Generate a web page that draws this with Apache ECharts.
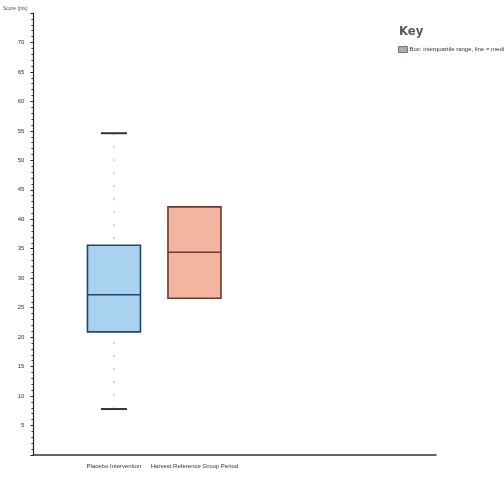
<!DOCTYPE html>
<html>
<head>
<meta charset="utf-8">
<script src="https://cdn.jsdelivr.net/npm/echarts@6/dist/echarts.min.js"></script>
<style>
  html, body { margin: 0; padding: 0; background: #fff; }
  #chart { width: 504px; height: 477px; }
</style>
</head>
<body>
<div id="chart"></div>
<script>
// Groups along the x axis (blank slots keep the spacing of the original layout)
const categories = ['', 'Placebo Intervention', 'Harvest Reference Group Period', '', '', ''];

// Box statistics per group: [lower quartile, median, upper quartile]
const placeboBox = [20.9, 27.2, 35.6];
const referenceBox = [26.6, 34.4, 42.1];

// Whisker ends per group: [minimum, maximum] (null = no whisker drawn)
const placeboWhisker = [7.8, 54.6];
const referenceWhisker = null;

// Y axis range and step
const yMin = 0, yMax = 75, yStep = 5;

const boxColors = [
  { fill: '#a9d2f0', border: '#23446e' },
  { fill: '#f5b4a0', border: '#6b3b32' }
];

function boxItem(stats, c) {
  // boxplot wants [min, Q1, median, Q3, max]; whiskers are drawn separately
  return {
    value: [stats[0], stats[0], stats[1], stats[2], stats[2]],
    itemStyle: { color: c.fill, borderColor: c.border, borderWidth: 1.6 }
  };
}

const boxData = [
  '-',
  boxItem(placeboBox, boxColors[0]),
  boxItem(referenceBox, boxColors[1]),
  '-', '-', '-'
];

const whiskerData = [];
[[1, placeboWhisker, placeboBox], [2, referenceWhisker, referenceBox]].forEach(([i, w, b]) => {
  if (w) whiskerData.push([i, w[0], b[0], b[2], w[1]]);
});

const chart = echarts.init(document.getElementById('chart'), null, { renderer: 'canvas' });

chart.setOption({
  backgroundColor: '#ffffff',
  animation: false,
  title: {
    text: 'Key',
    left: 394, top: 20,
    textStyle: { fontFamily: 'Liberation Sans Narrow, DejaVu Sans Condensed, sans-serif', fontSize: 13, fontWeight: 'bold', color: '#5a5a5a' }
  },
  legend: {
    left: 393, top: 41,
    itemWidth: 9, itemHeight: 6, itemGap: 4,
    icon: 'rect',
    data: [{ name: 'Box: interquartile range, line = median', itemStyle: { color: '#a7aeb6', borderColor: '#777', borderWidth: 1 } }],
    textStyle: { fontSize: 6, color: '#333', padding: [0, 0, 0, -3] }
  },
  grid: { left: 30, right: 68, top: 13, bottom: 22 },
  xAxis: {
    type: 'category',
    data: categories,
    boundaryGap: false,
    axisLine: { lineStyle: { color: '#333', width: 1.5 } },
    axisTick: { show: false },
    axisLabel: { fontSize: 6, color: '#333', interval: 0, margin: 8 },
    splitLine: { show: false }
  },
  yAxis: {
    type: 'value',
    min: yMin, max: yMax, interval: yStep,
    name: 'Score (pts)',
    nameLocation: 'end',
    nameGap: 2,
    nameTextStyle: { fontSize: 5, color: '#555', align: 'right', padding: [0, 6, 0, 0] },
    axisLine: { show: true, lineStyle: { color: '#222', width: 1.2 } },
    axisTick: { show: true, length: 3, lineStyle: { color: '#222' } },
    minorTick: { show: true, splitNumber: 5, length: 2, lineStyle: { color: '#333' } },
    axisLabel: {
      fontSize: 6, color: '#333', margin: 9,
      formatter: v => (v === yMin || v === yMax) ? '' : String(v)
    },
    splitLine: { show: false }
  },
  series: [
    {
      name: 'Box: interquartile range, line = median',
      type: 'boxplot',
      data: boxData,
      boxWidth: [53, 53],
      z: 3
    },
    {
      name: 'whiskers',
      type: 'custom',
      data: whiskerData,
      z: 2,
      renderItem: function (params, api) {
        const x = api.value(0);
        const lo = api.coord([x, api.value(1)]);
        const q1 = api.coord([x, api.value(2)]);
        const q3 = api.coord([x, api.value(3)]);
        const hi = api.coord([x, api.value(4)]);
        const half = 13;
        const dash = { stroke: '#b0b0b0', lineWidth: 1, lineDash: [2, 11] };
        const cap = { stroke: '#333', lineWidth: 2 };
        return {
          type: 'group',
          children: [
            { type: 'line', shape: { x1: hi[0], y1: hi[1], x2: q3[0], y2: q3[1] }, style: dash },
            { type: 'line', shape: { x1: lo[0], y1: lo[1], x2: q1[0], y2: q1[1] }, style: dash },
            { type: 'line', shape: { x1: hi[0] - half, y1: hi[1], x2: hi[0] + half, y2: hi[1] }, style: cap },
            { type: 'line', shape: { x1: lo[0] - half, y1: lo[1], x2: lo[0] + half, y2: lo[1] }, style: cap }
          ]
        };
      }
    }
  ]
});
</script>
</body>
</html>
